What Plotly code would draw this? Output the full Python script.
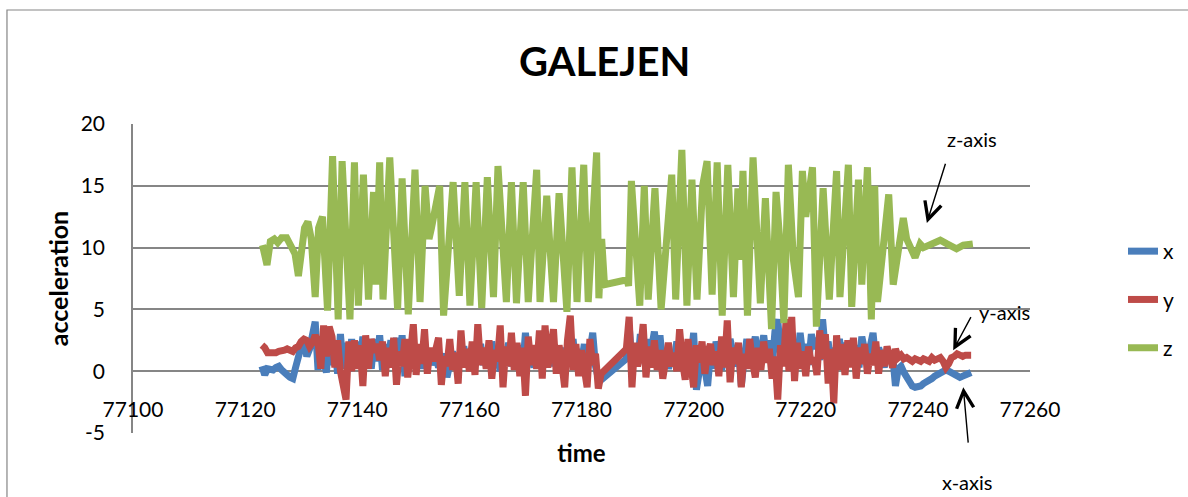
import numpy as np
import plotly.graph_objects as go

# ---- accelerometer samples (x / y axes share one sampling clock) ----
SAMPLE_STEP = 0.5
time_a = np.arange(77123.0, 77184.0, SAMPLE_STEP)   # before the logging gap
time_b = np.arange(77188.0, 77250.0, SAMPLE_STEP)   # after the logging gap

acc_x_a = [
    0.4, -0.3, 0.2, 0.1, 0.1, 0.3, 0.4, 0.1, -0.2, -0.3,
    -0.5, -0.6, 0.3, 1.5, 2.0, 2.6, 1.2, 1.8, 3.0, 4.0,
    0.1, 2.4, 0.8, -0.1, 3.1, 0.5, 2.0, -0.2, 3.0, 0.2,
    2.3, 0.0, 2.6, 0.3, 2.4, 0.5, 2.8, 0.6, 2.1, 0.2,
    2.6, 0.8, 2.9, 0.1, 2.2, 0.9, 2.5, 0.3, 2.7, 0.6,
    2.9, -0.4, 1.6, 0.9, 2.3, 0.6, 1.9, 0.2, 1.5, 0.8,
    1.7, 0.5, 1.2, 0.3, 0.9, 1.4, -0.5, 0.6, 1.6, 0.2,
    1.1, 0.4, 2.0, 0.8, 1.3, 0.1, 1.7, 0.9, 2.2, 0.5,
    1.5, 0.3, 2.4, 0.7, 1.2, 0.0, 1.6, 0.9, 2.3, 0.4,
    1.8, 0.6, 2.1, 0.2, 3.1, 0.8, 1.4, 0.3, 2.0, 0.7,
    2.5, 0.9, 1.7, 0.4, 2.2, 0.8, 1.3, 0.2, 1.9, 0.6,
    1.4, 2.6, 0.3, 1.8, 0.6, 2.2, 0.0, 1.6, 3.1, 0.4, -0.6, -0.7,
]
acc_x_b = [
    1.0, 3.7, 0.8, 2.1, 0.5, 3.0, 1.2, 2.6, 0.4, 1.9,
    3.2, 1.1, 2.9, 0.5, 1.8, 0.2, 1.4, 0.9, 2.4, 0.6,
    1.7, 0.3, 2.1, 0.9, 3.1, -1.5, 0.6, 1.4, 0.2, -1.2,
    1.5, 0.2, 2.4, 1.0, 0.1, 1.7, 0.5, 2.6, 1.2, 0.4,
    2.0, -1.2, 0.9, 2.6, 0.6, 1.8, 2.8, 0.4, 1.5, 2.9,
    1.1, 2.5, 0.3, 3.2, 4.2, 1.4, 2.7, 0.9, 3.1, 1.6,
    2.4, 0.7, 3.1, 1.2, 2.2, 0.5, 3.0, 1.8, 2.7, 0.9,
    4.2, 1.6, 2.4, 0.4, 1.9, 0.8, 2.6, 1.2, 2.3, 0.6,
    2.5, 1.0, 2.1, 0.3, 2.8, 1.5, 0.6, 2.0, 3.1, 0.8,
    1.9, 1.2, 0.3, 1.6, 0.9, 1.3, -1.2, 0.2, 0.4, -0.1,
    -0.5, -0.9, -1.2, -1.3, -1.3, -1.2, -1.0, -0.9, -0.7, -0.6,
    -0.4, -0.3, -0.1, 0.0, 0.1, 0.0, -0.1, -0.2, -0.4, -0.5,
    -0.4, -0.3, -0.2, -0.1,
]

acc_y_a = [
    2.1, 1.9, 1.5, 1.5, 1.4, 1.5, 1.6, 1.6, 1.7, 1.8,
    1.7, 1.6, 1.9, 2.0, 2.4, 2.6, 2.5, 2.0, 2.3, 2.9,
    2.4, 0.2, 3.7, 1.2, 3.6, 2.8, 0.3, 2.5, 0.0, -1.0,
    -2.3, 2.4, 0.0, 2.5, 0.2, 2.1, -1.2, 2.9, 0.2, 2.6,
    1.5, 2.2, 0.9, 2.4, -0.4, 1.9, 0.3, 2.7, -1.1, 1.6,
    0.4, 2.6, -0.5, 1.4, 3.8, -0.3, 2.2, 0.6, 3.4, -0.2,
    1.9, 0.8, 1.6, 2.7, -1.1, 1.2, 0.4, 2.6, 0.1, 1.5,
    -1.0, 3.3, 0.3, 1.8, 0.0, 2.4, -0.3, 3.8, 0.5, 1.9,
    0.2, 2.5, -0.6, 1.7, 0.8, 3.7, -1.3, 2.0, 0.4, 3.1,
    0.1, 2.3, -0.4, 1.9, -2.0, 2.8, 0.5, 2.1, 0.2, 3.3,
    -0.6, 3.7, 0.3, 1.6, 3.4, -0.2, 2.1, 0.6, -1.3, 2.5,
    4.5, 0.1, 2.2, -0.4, 1.7, 0.2, -1.3, 2.6, 0.5, 1.4, -1.4, -0.2,
]
acc_y_b = [
    1.8, 4.4, -1.3, 2.3, 0.4, 1.6, 3.8, -0.5, 2.0, 0.3,
    2.5, 0.1, 1.7, -0.6, 1.2, 2.3, 0.4, 1.5, 0.0, 3.4,
    0.8, -0.7, 2.6, 0.2, -1.3, 2.1, 0.7, 2.4, -0.2, 1.5,
    2.2, 0.5, 1.6, -0.4, 2.8, 0.3, 4.1, -0.9, 1.9, 0.6,
    2.3, -1.3, 1.4, 0.2, 2.6, 0.8, -0.5, 1.9, 0.1, 2.4,
    0.7, 1.8, -0.6, 1.2, -2.3, 2.1, 0.4, 4.2, 0.0, 4.4,
    -0.8, 2.3, 0.2, 1.6, -0.4, 2.0, 0.6, 1.1, -0.3, 3.3,
    1.0, 3.0, -1.0, 1.8, -2.6, 2.9, 0.1, 2.2, -0.3, 2.5,
    0.3, 2.7, -0.6, 1.9, 0.6, 2.2, -0.2, 1.4, 0.5, 2.4,
    -0.2, 1.7, 0.4, 2.0, 1.2, 0.3, 1.8, 1.1, 1.3, 1.0,
    1.1, 0.9, 0.8, 1.0, 0.9, 0.8, 1.0, 0.9, 0.8, 1.1,
    0.9, 1.0, 1.1, 0.8, 0.3, 0.6, 1.1, 1.2, 1.4, 1.3,
    1.2, 1.3, 1.3, 1.3,
]

# ---- z axis: turning points of the vertical acceleration ----
time_z = [
    77123.1, 77123.9, 77124.5, 77125.2, 77125.8, 77126.5, 77127.4, 77128.2,
    77128.9, 77129.5, 77130.1, 77130.6, 77131.2, 77131.8, 77132.5, 77133.1,
    77133.8, 77134.7, 77135.6, 77136.6, 77137.3, 77138.7, 77139.5, 77140.2,
    77141.1, 77142.0, 77142.9, 77143.3, 77144.0, 77144.6, 77145.8, 77147.2,
    77148.0, 77149.1, 77150.3, 77151.2, 77152.1, 77152.8, 77153.2, 77154.7,
    77155.4, 77157.1, 77158.2, 77159.2, 77160.1, 77161.2, 77162.2, 77163.2,
    77164.3, 77165.1, 77166.6, 77167.5, 77168.4, 77169.6, 77170.5, 77172.0,
    77172.6, 77173.8, 77175.0, 77176.0, 77177.4, 77178.3, 77179.2, 77180.4,
    77181.2, 77182.7, 77183.1, 77183.6, 77184.1, 77188.1, 77188.4, 77188.9,
    77190.4, 77191.2, 77191.9, 77193.1, 77194.2, 77196.1, 77196.8, 77197.9,
    77198.8, 77199.7, 77200.6, 77201.6, 77202.4, 77203.3, 77204.2, 77205.1,
    77206.1, 77207.1, 77207.9, 77208.3, 77208.8, 77209.6, 77210.6, 77211.9,
    77212.8, 77213.9, 77214.7, 77215.3, 77216.1, 77216.9, 77217.8, 77218.7,
    77219.4, 77220.0, 77221.2, 77221.9, 77223.1, 77224.2, 77225.5, 77226.1,
    77227.6, 77228.2, 77229.4, 77230.0, 77231.0, 77231.7, 77232.3, 77232.8,
    77234.8, 77235.6, 77237.4, 77238.0, 77239.5, 77240.4, 77241.0, 77242.5,
    77244.0, 77245.2, 77246.9, 77248.1, 77249.8,
]
acc_z = [
    10.2, 8.6, 10.5, 10.7, 10.4, 10.8, 10.8, 10.2,
    9.5, 7.7, 9.5, 11.6, 12.1, 10.7, 6.0, 11.6,
    12.5, 4.9, 17.4, 4.2, 17.0, 4.2, 16.9, 5.3,
    15.9, 5.8, 14.5, 7.0, 16.9, 5.8, 17.3, 5.0,
    15.6, 4.6, 16.3, 5.6, 15.0, 10.7, 11.5, 15.0,
    4.5, 15.3, 6.1, 15.3, 5.3, 15.3, 5.1, 15.7,
    6.0, 16.6, 5.6, 15.3, 5.5, 15.3, 5.6, 16.3,
    5.6, 14.2, 5.6, 14.4, 4.8, 16.5, 5.6, 16.7,
    5.6, 17.7, 5.9, 10.7, 7.0, 7.4, 6.9, 15.4,
    5.3, 15.0, 5.8, 14.8, 5.0, 15.9, 5.8, 17.9,
    5.3, 15.5, 5.8, 15.0, 17.0, 6.2, 16.9, 4.5,
    16.7, 6.0, 14.8, 9.0, 16.2, 4.5, 17.3, 5.5,
    14.0, 3.4, 14.5, 11.0, 3.9, 16.7, 9.0, 6.0,
    16.2, 12.5, 16.5, 3.6, 14.8, 5.8, 16.2, 6.0,
    16.7, 5.2, 15.5, 7.0, 16.5, 4.2, 15.0, 5.6,
    14.3, 7.0, 12.4, 10.7, 9.2, 10.3, 10.0, 10.3,
    10.6, 10.3, 9.9, 10.2, 10.3,
]

assert len(time_a) == len(acc_x_a) == len(acc_y_a)
assert len(time_b) == len(acc_x_b) == len(acc_y_b)
assert len(time_z) == len(acc_z)

time_xy = list(time_a) + list(time_b)
acc_x = acc_x_a + acc_x_b
acc_y = acc_y_a + acc_y_b

X_TICKS = [77100, 77120, 77140, 77160, 77180, 77200, 77220, 77240, 77260]
Y_TICKS = [-5, 0, 5, 10, 15, 20]

FONT = "Lato, 'Open Sans', sans-serif"
GRID = "#868686"

fig = go.Figure()
series = [
    ("x", time_xy, acc_x, "#4A7EBB"),
    ("y", time_xy, acc_y, "#BE4B48"),
    ("z", time_z, acc_z, "#98B954"),
]
for name, t, v, color in series:
    fig.add_trace(go.Scatter(
        x=t, y=v, name=name, mode="lines", legendgroup=name,
        line=dict(color=color, width=7, shape="linear"),
    ))

# labelled arrows pointing at each trace
arrows = [
    # (head t, head v, tail t, tail v)
    (77241.6, 12.0, 77245.0, 16.9),
    (77246.3, 1.7, 77249.6, 4.5),
    (77248.1, -1.3, 77249.0, -5.9),
]
for hx, hy, tx, ty in arrows:
    fig.add_annotation(
        x=hx, y=hy, ax=tx, ay=ty, xref="x", yref="y", axref="x", ayref="y",
        text="", showarrow=True, arrowhead=5, arrowsize=2.4, arrowwidth=1.4,
        arrowcolor="black",
    )
label_font = dict(family=FONT, size=20, color="black")
fig.add_annotation(x=77249.7, y=18.75, xref="x", yref="y", text="z-axis",
                   showarrow=False, font=label_font)
fig.add_annotation(x=77255.4, y=4.75, xref="x", yref="y", text="y-axis",
                   showarrow=False, font=label_font)
fig.add_annotation(x=77248.7, y=-0.204, xref="x", yref="paper", text="x-axis",
                   showarrow=False, font=label_font)

# outer chart frame
fig.add_shape(type="rect", xref="paper", yref="paper",
              x0=-0.1405, x1=1.2, y0=-0.3, y1=1.369,
              line=dict(color=GRID, width=1.2), fillcolor="rgba(0,0,0,0)",
              layer="below")

fig.update_layout(
    width=1188, height=497,
    margin=dict(l=133, r=158, t=124, b=64),
    paper_bgcolor="white", plot_bgcolor="white",
    font=dict(family=FONT, color="black"),
    title=dict(text="<b>GALEJEN</b>", x=0.509, xref="container", xanchor="center",
               y=1 - 62 / 497, yref="container", yanchor="middle",
               font=dict(family=FONT, size=40, color="black")),
    showlegend=True,
    legend=dict(x=1123 / 1188, xref="container", xanchor="left",
                y=1 - 231 / 497, yref="container", yanchor="top",
                font=dict(family=FONT, size=21, color="black"),
                tracegroupgap=18, bgcolor="rgba(0,0,0,0)"),
    xaxis=dict(range=[77100, 77260], tickvals=X_TICKS,
               ticktext=[str(v) for v in X_TICKS],
               showgrid=False, zeroline=False, showline=False,
               anchor="free", position=0.2, ticks="",
               ticklabelstandoff=24,
               tickfont=dict(family=FONT, size=21, color="black"),
               title=dict(text="<b>time</b>", standoff=24,
                          font=dict(family=FONT, size=24, color="black"))),
    yaxis=dict(range=[-5, 20], tickvals=Y_TICKS,
               ticktext=[str(v) for v in Y_TICKS], showgrid=True,
               gridcolor=GRID, gridwidth=1.5, zeroline=False,
               showline=True, linecolor=GRID, linewidth=1.5,
               ticks="", ticklabelstandoff=22,
               tickfont=dict(family=FONT, size=21, color="black"),
               title=dict(text="<b>acceleration</b>", standoff=5,
                          font=dict(family=FONT, size=25, color="black"))),
)

fig.write_html("out.html")
